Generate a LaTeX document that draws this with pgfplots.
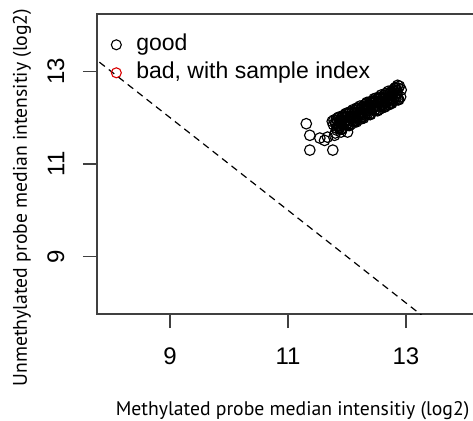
\documentclass[border=0pt]{standalone}
\usepackage{pgfplots}
\pgfplotsset{compat=1.18}
\usepackage{fontspec}
\setmainfont{Liberation Sans}
\newfontfamily\labfont{PT Sans}
\begin{document}
\begin{tikzpicture}
\begin{axis}[
  at={(0,0)}, anchor=south west,
  scale only axis, width=382pt, height=300pt,
  xmin=7.76, xmax=14.24, ymin=7.76, ymax=14.24,
  axis line style={black!75, line width=1.3pt},
  xtick={9,11,13}, ytick={9,11,13},
  tick pos=left, tick align=outside,
  major tick length=14pt,
  tick style={black!75, line width=1.3pt},
  /pgf/number format/assume math mode=true,
  ticklabel style={font=\fontsize{24}{24}\selectfont},
  xticklabel style={yshift=-16pt},
  yticklabel style={rotate=90, anchor=south, yshift=15pt},
  xlabel={Methylated probe median intensitiy (log2)},
  ylabel={Unmethylated probe median intensitiy (log2)},
  label style={font=\labfont\fontsize{19.7}{20}\selectfont},
  xlabel style={at={(axis description cs:0.512,0)}, anchor=center, yshift=-97pt},
  ylabel style={at={(axis description cs:0,0.388)}, anchor=center, yshift=75pt},
  legend style={draw=none, fill=none, at={(axis description cs:0.037,0.933)}, anchor=north west,
    font=\fontsize{23}{23}\selectfont, row sep=7pt, column sep=15pt, inner sep=0pt,
    nodes={inner sep=0pt, text height=16pt, text depth=5pt}},
  legend cell align=left,
  clip=true,
]
\addlegendimage{only marks, mark=o, mark size=5pt, black, line width=1.1pt}
\addlegendentry{good}
\addlegendimage{only marks, mark=o, mark size=5pt, red!85!black, line width=1.1pt}
\addlegendentry{bad, with sample index}
\addplot[black, line width=1.2pt, dash pattern=on 7pt off 5pt, forget plot] coordinates {(7.0,14.0) (15.0,6.0)};
\addplot[only marks, mark=o, mark size=5.3pt, black, line width=1.15pt, forget plot] coordinates {
(11.31,11.87) (11.37,11.62) (11.37,11.30) (11.76,11.30) (11.54,11.56) (11.62,11.51)
(11.67,11.58) (11.79,11.62) (11.90,11.69) (12.01,11.69) (11.75,11.92) (11.77,11.85) (11.78,11.95)
(12.86,12.70) (12.89,12.68) (12.92,12.60) (12.91,12.45)
(11.80,11.67) (11.81,11.87) (11.82,11.97) (11.83,11.77) (11.84,11.94) (11.85,11.84)
(11.86,12.01) (11.87,11.77) (11.88,11.88) (11.89,11.95) (11.90,11.76) (11.91,12.01)
(11.92,11.75) (11.93,11.95) (11.94,12.05) (11.95,11.85) (11.96,12.02) (11.97,11.92)
(11.98,12.09) (11.99,11.85) (12.00,11.96) (12.01,12.03) (12.02,11.84) (12.03,12.09)
(12.04,11.83) (12.05,12.03) (12.06,12.13) (12.07,11.93) (12.08,12.10) (12.09,11.99)
(12.10,12.17) (12.11,11.93) (12.12,12.03) (12.13,12.11) (12.14,11.92) (12.15,12.16)
(12.16,11.91) (12.17,12.11) (12.18,12.20) (12.19,12.01) (12.20,12.18) (12.21,12.07)
(12.22,12.25) (12.23,12.01) (12.24,12.11) (12.25,12.19) (12.26,12.00) (12.27,12.24)
(12.28,11.99) (12.29,12.19) (12.30,12.28) (12.31,12.09) (12.32,12.26) (12.33,12.15)
(12.34,12.33) (12.35,12.09) (12.36,12.19) (12.37,12.27) (12.38,12.08) (12.39,12.32)
(12.40,12.07) (12.41,12.27) (12.42,12.36) (12.43,12.17) (12.44,12.34) (12.45,12.23)
(12.46,12.41) (12.47,12.17) (12.48,12.27) (12.49,12.35) (12.50,12.16) (12.51,12.40)
(12.52,12.15) (12.53,12.35) (12.54,12.44) (12.55,12.25) (12.56,12.42) (12.57,12.31)
(12.58,12.49) (12.59,12.24) (12.60,12.35) (12.61,12.43) (12.62,12.23) (12.63,12.48)
(12.64,12.23) (12.65,12.42) (12.66,12.52) (12.67,12.33) (12.68,12.49) (12.69,12.39)
(12.70,12.57) (12.71,12.32) (12.72,12.43) (12.73,12.51) (12.74,12.31) (12.75,12.56)
(12.76,12.31) (12.77,12.50) (12.78,12.60) (12.79,12.41) (12.80,12.57) (12.81,12.47)
(12.82,12.65) (12.83,12.40) (12.84,12.51) (12.85,12.59) (12.86,12.39) (12.87,12.64)
(12.88,12.39)
(11.81,11.89) (11.83,11.73) (11.85,12.00) (11.87,11.83) (11.89,11.90) (11.91,11.76)
(11.93,12.01) (11.95,11.86) (11.97,12.00) (11.99,11.84) (12.01,12.10) (12.03,11.94)
(12.05,12.01) (12.07,11.86) (12.09,12.12) (12.11,11.97) (12.13,12.10) (12.15,11.94)
(12.17,12.21) (12.19,12.04) (12.21,12.11) (12.23,11.97) (12.25,12.22) (12.27,12.07)
(12.29,12.21) (12.31,12.05) (12.33,12.31) (12.35,12.15) (12.37,12.22) (12.39,12.07)
(12.41,12.33) (12.43,12.18) (12.45,12.31) (12.47,12.16) (12.49,12.42) (12.51,12.25)
(12.53,12.33) (12.55,12.18) (12.57,12.43) (12.59,12.29) (12.61,12.42) (12.63,12.26)
(12.65,12.52) (12.67,12.36) (12.69,12.43) (12.71,12.28) (12.73,12.54) (12.75,12.39)
(12.77,12.52) (12.79,12.37) (12.81,12.63) (12.83,12.46) (12.85,12.54) (12.87,12.39)
};
\end{axis}
\pgfresetboundingbox
\path[use as bounding box] (-97pt,-106pt) rectangle (376pt,314pt);
\end{tikzpicture}
\end{document}
